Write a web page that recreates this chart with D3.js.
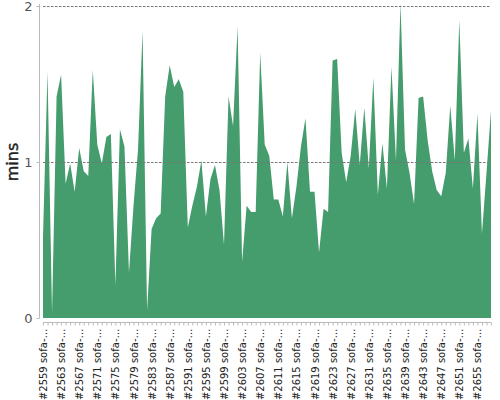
<!DOCTYPE html>
<html><head><meta charset="utf-8">
<script src="https://cdn.jsdelivr.net/npm/d3@7/dist/d3.min.js"></script>
<style>
html,body{margin:0;padding:0;background:#fff;}
svg{display:block;font-family:"DejaVu Sans",sans-serif;}
</style></head>
<body><svg id="chart" width="500" height="400"></svg>
<script>
const builds = [2559,2560,2561,2562,2563,2564,2565,2566,2567,2568,2569,2570,2571,2572,2573,2574,2575,2576,2577,2578,
2579,2580,2581,2582,2583,2584,2585,2586,2587,2588,2589,2590,2591,2592,2593,2594,2595,2596,2597,2598,
2599,2600,2601,2602,2603,2604,2605,2606,2607,2608,2609,2610,2611,2612,2613,2614,2615,2616,2617,2618,
2619,2620,2621,2622,2623,2624,2625,2626,2627,2628,2629,2630,2631,2632,2633,2634,2635,2636,2637,2638,
2639,2640,2641,2642,2643,2644,2645,2646,2647,2648,2649,2650,2651,2652,2653,2654,2655,2656,2657,2658];
const mins = [0.52,1.58,0.03,1.42,1.56,0.86,0.99,0.81,1.09,0.94,0.91,1.59,1.11,0.99,1.16,1.18,0.21,1.21,1.10,0.29,
0.72,1.08,1.84,0.05,0.57,0.64,0.67,1.42,1.62,1.48,1.53,1.45,0.58,0.72,0.84,1.01,0.65,0.89,0.98,0.82,
0.47,1.42,1.23,1.87,0.36,0.72,0.68,0.68,1.70,1.11,1.04,0.76,0.76,0.65,1.00,0.64,0.84,1.10,1.28,0.81,
0.81,0.42,0.70,0.68,1.65,1.66,1.06,0.87,1.04,1.34,0.98,1.35,0.96,1.54,0.79,1.12,0.83,1.61,1.01,2.02,
1.08,0.93,0.73,1.41,1.42,1.14,0.94,0.82,0.78,0.93,1.36,1.01,1.91,1.06,1.15,0.83,1.31,0.54,0.93,1.33];
const labeledBuilds = [2559,2563,2567,2571,2575,2579,2583,2587,2591,2595,2599,2603,2607,2611,2615,2619,2623,2627,2631,2635,2639,2643,2647,2651,2655];
const tickLabels = ["#2559 sofa-…","#2563 sofa-…","#2567 sofa-…","#2571 sofa-…","#2575 sofa-…","#2579 sofa-…","#2583 sofa-…","#2587 sofa-…","#2591 sofa-…","#2595 sofa-…","#2599 sofa-…","#2603 sofa-…","#2607 sofa-…","#2611 sofa-…","#2615 sofa-…","#2619 sofa-…","#2623 sofa-…","#2627 sofa-…","#2631 sofa-…","#2635 sofa-…","#2639 sofa-…","#2643 sofa-…","#2647 sofa-…","#2651 sofa-…","#2655 sofa-…"];
const yTicks = [0,1,2];
const yTitle = "mins";

const svg = d3.select("#chart");
const pLeft = 43, pRight = 491, pTop = 6, pBottom = 318;
const x = d3.scalePoint().domain(builds).range([pLeft, pRight]);
const y = d3.scaleLinear().domain([0, 2]).range([pBottom, pTop]);
const data = builds.map((b, i) => ({b, v: mins[i]}));

svg.append("defs").append("clipPath").attr("id","clip")
  .append("rect").attr("x", pLeft).attr("y", 2).attr("width", pRight-pLeft).attr("height", pBottom-2);

svg.append("path").datum(data)
  .attr("clip-path","url(#clip)")
  .attr("fill", "#459c6c")
  .attr("d", d3.area().x(d => x(d.b)).y0(y(0)).y1(d => y(d.v)));

// gridlines
svg.append("g").selectAll("line").data(yTicks.filter(t => t > 0)).join("line")
  .attr("x1", pLeft).attr("x2", pRight)
  .attr("y1", d => y(d) + 0.5).attr("y2", d => y(d) + 0.5)
  .attr("stroke", "#777").attr("stroke-width", 1).attr("stroke-dasharray", "2.5,1.5");

// y axis
const yAxis = svg.append("g").attr("transform", "translate(39.5,0)")
  .call(d3.axisLeft(y).tickValues(yTicks).tickFormat(d3.format("d")).tickSize(3).tickPadding(4));
yAxis.select(".domain").attr("stroke", "#bbb").attr("d", `M0,${pTop-2}V${pBottom}`);
yAxis.selectAll(".tick line").attr("stroke", "#bbb");
yAxis.selectAll(".tick text").attr("fill", "#555").style("font-size", "13px").style("font-family", "DejaVu Sans, sans-serif");

svg.append("text").attr("transform", `translate(18,162) rotate(-90)`)
  .attr("text-anchor", "middle").attr("fill", "#222")
  .style("font-size", "16px").style("stroke", "#222").style("stroke-width", "0.4").text(yTitle);

// x axis
const labelMap = new Map(labeledBuilds.map((b, i) => [b, tickLabels[i]]));
const xAxis = svg.append("g").attr("transform", `translate(0,${pBottom + 4.5})`)
  .call(d3.axisBottom(x).tickSize(3).tickPadding(4).tickFormat(d => labelMap.get(d) || ""));
xAxis.select(".domain").attr("stroke", "#bbb").attr("d", `M${pLeft},0H${pRight}`);
xAxis.selectAll(".tick line").attr("stroke", "#bbb");
xAxis.selectAll(".tick text")
  .attr("transform", "rotate(-90)")
  .attr("text-anchor", "end")
  .attr("x", -6).attr("y", 0).attr("dy", "0.35em")
  .attr("fill", "#222")
  .style("font-size", "10px").style("font-family", "DejaVu Sans, sans-serif");
</script></body></html>
